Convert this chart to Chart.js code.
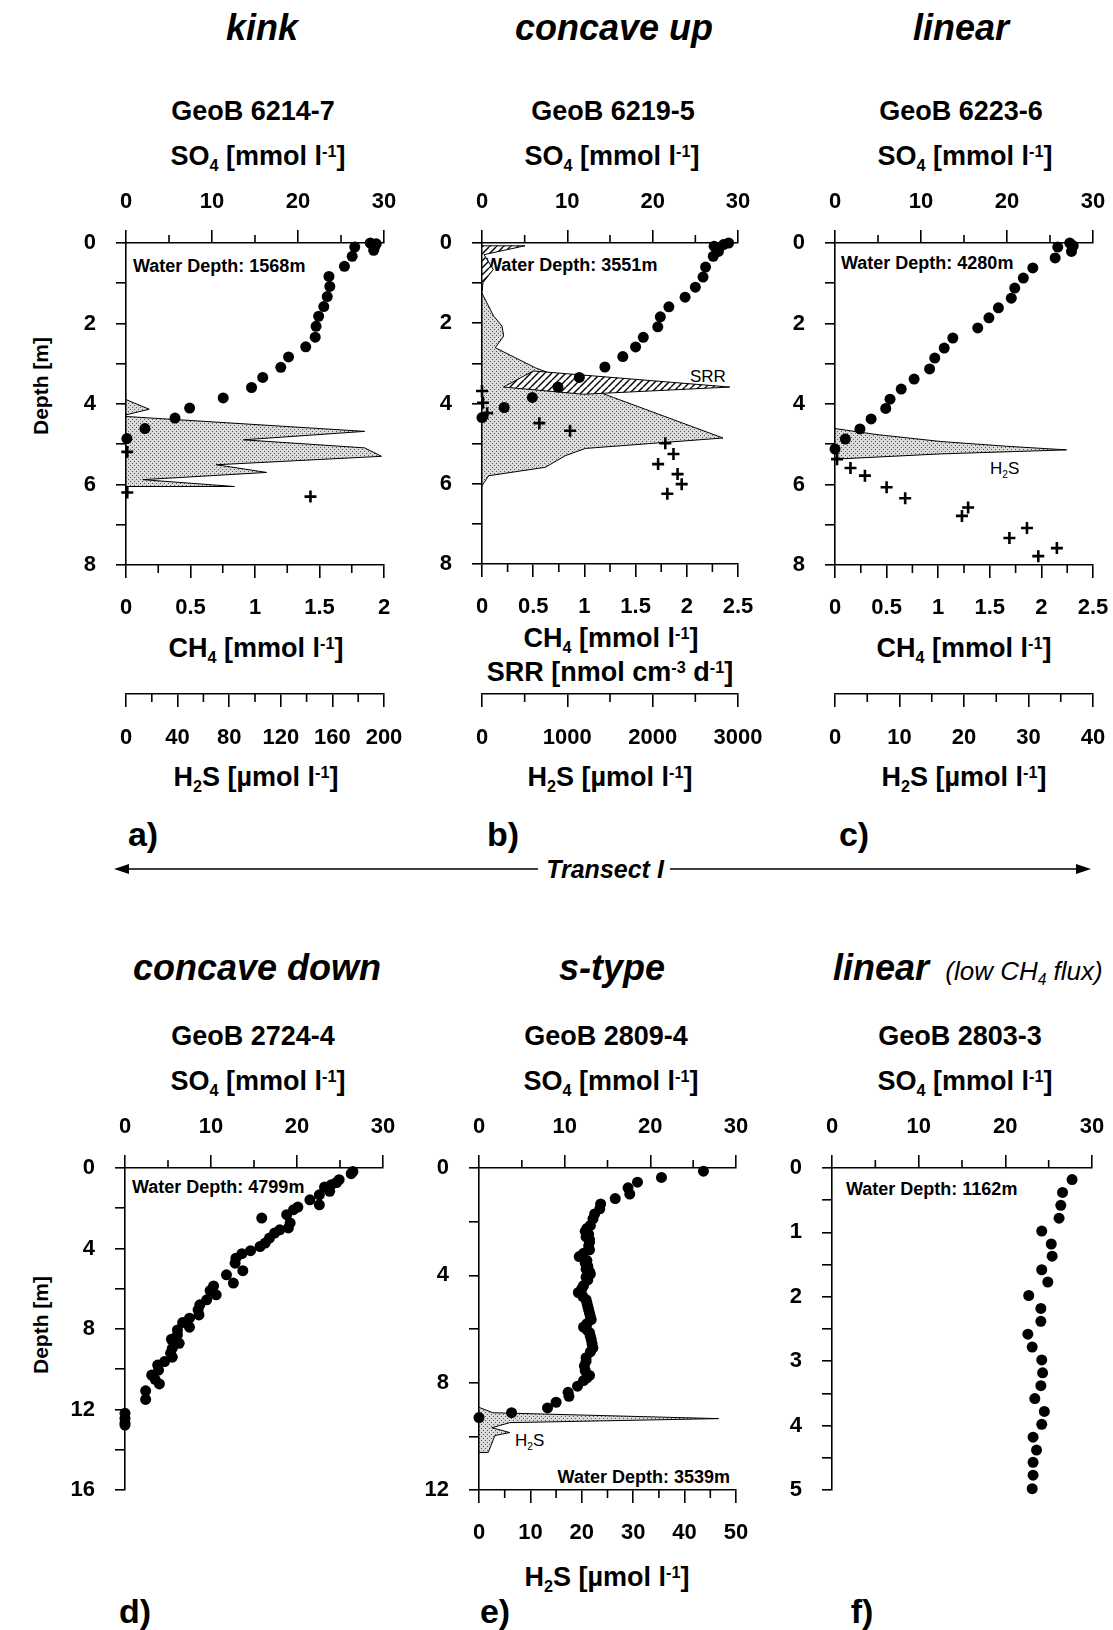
<!DOCTYPE html>
<html>
<head>
<meta charset="utf-8">
<title>Pore water profiles</title>
<script src="https://cdn.jsdelivr.net/npm/chart.js@4.4.1/dist/chart.umd.min.js"></script>
<style>
html,body{margin:0;padding:0;background:#fff;overflow:hidden;}
body{width:1113px;height:1630px;position:relative;overflow:hidden;font-family:'Liberation Sans',Arial,Helvetica,sans-serif;color:#000;}
canvas{position:absolute;}
.tx{position:absolute;white-space:nowrap;line-height:1;transform:translate(-50%,-50%);}
.tl{transform:translate(0,-50%);}
.tr{transform:translate(-100%,-50%);}
.ttl{font-size:36px;font-weight:bold;font-style:italic;}
.sm{font-size:26px;font-style:italic;}
.geo{font-size:27px;font-weight:bold;}
.ax{font-size:27px;font-weight:bold;}
.wd{font-size:18px;font-weight:bold;}
.in{font-size:17px;}
.pl{font-size:34px;font-weight:bold;}
.dep{font-size:21px;font-weight:bold;transform:translate(-50%,-50%) rotate(-90deg);}
.trs{font-size:25px;font-weight:bold;font-style:italic;}
sub,sup{font-size:0.6em;line-height:0;position:relative;vertical-align:baseline;}
sub{top:0.35em;}
sup{top:-0.5em;}
</style>
</head>
<body>

<!-- row 1 texts -->
<div class="tx ttl" style="left:262px;top:28px">kink</div>
<div class="tx ttl" style="left:614px;top:28px">concave up</div>
<div class="tx ttl" style="left:961px;top:28px">linear</div>
<div class="tx geo" style="left:253px;top:111px">GeoB 6214-7</div>
<div class="tx geo" style="left:613px;top:111px">GeoB 6219-5</div>
<div class="tx geo" style="left:961px;top:111px">GeoB 6223-6</div>
<div class="tx ax" style="left:258px;top:156px">SO<sub>4</sub> [mmol l<sup>-1</sup>]</div>
<div class="tx ax" style="left:612px;top:156px">SO<sub>4</sub> [mmol l<sup>-1</sup>]</div>
<div class="tx ax" style="left:965px;top:156px">SO<sub>4</sub> [mmol l<sup>-1</sup>]</div>
<div class="tx dep" style="left:40px;top:386px">Depth [m]</div>
<div class="tx wd tl" style="left:133px;top:266px">Water Depth: 1568m</div>
<div class="tx wd tl" style="left:485px;top:265px">Water Depth: 3551m</div>
<div class="tx wd tl" style="left:841px;top:263px">Water Depth: 4280m</div>
<div class="tx in tl" style="left:163px;top:455px">H<sub>2</sub>S</div>
<div class="tx in tl" style="left:495px;top:453px">H<sub>2</sub>S</div>
<div class="tx in tl" style="left:690px;top:376px">SRR</div>
<div class="tx in tl" style="left:990px;top:468px">H<sub>2</sub>S</div>
<div class="tx ax" style="left:256px;top:648px">CH<sub>4</sub> [mmol l<sup>-1</sup>]</div>
<div class="tx ax" style="left:611px;top:638px">CH<sub>4</sub> [mmol l<sup>-1</sup>]</div>
<div class="tx ax" style="left:610px;top:672px">SRR [nmol cm<sup>-3</sup> d<sup>-1</sup>]</div>
<div class="tx ax" style="left:964px;top:648px">CH<sub>4</sub> [mmol l<sup>-1</sup>]</div>
<div class="tx ax" style="left:256px;top:777px">H<sub>2</sub>S [µmol l<sup>-1</sup>]</div>
<div class="tx ax" style="left:610px;top:777px">H<sub>2</sub>S [µmol l<sup>-1</sup>]</div>
<div class="tx ax" style="left:964px;top:777px">H<sub>2</sub>S [µmol l<sup>-1</sup>]</div>
<div class="tx pl" style="left:143px;top:834px">a)</div>
<div class="tx pl" style="left:503px;top:834px">b)</div>
<div class="tx pl" style="left:854px;top:834px">c)</div>

<svg style="position:absolute;left:0;top:850px" width="1113" height="40">
  <line x1="122" y1="19" x2="538" y2="19" stroke="#000" stroke-width="1.5"/>
  <line x1="670" y1="19" x2="1083" y2="19" stroke="#000" stroke-width="1.5"/>
  <polygon points="114,19 129,14 129,24" fill="#000"/>
  <polygon points="1091,19 1076,14 1076,24" fill="#000"/>
</svg>
<div class="tx trs" style="left:605px;top:869px">Transect I</div>

<!-- row 2 texts -->
<div class="tx ttl" style="left:257px;top:968px">concave down</div>
<div class="tx ttl" style="left:612px;top:968px">s-type</div>
<div class="tx ttl" style="left:881px;top:968px">linear</div>
<div class="tx sm" style="left:1024px;top:971px">(low CH<sub>4</sub> flux)</div>
<div class="tx geo" style="left:253px;top:1036px">GeoB 2724-4</div>
<div class="tx geo" style="left:606px;top:1036px">GeoB 2809-4</div>
<div class="tx geo" style="left:960px;top:1036px">GeoB 2803-3</div>
<div class="tx ax" style="left:258px;top:1081px">SO<sub>4</sub> [mmol l<sup>-1</sup>]</div>
<div class="tx ax" style="left:611px;top:1081px">SO<sub>4</sub> [mmol l<sup>-1</sup>]</div>
<div class="tx ax" style="left:965px;top:1081px">SO<sub>4</sub> [mmol l<sup>-1</sup>]</div>
<div class="tx dep" style="left:40px;top:1325px">Depth [m]</div>
<div class="tx wd tl" style="left:132px;top:1187px">Water Depth: 4799m</div>
<div class="tx wd tr" style="left:730px;top:1477px">Water Depth: 3539m</div>
<div class="tx wd tl" style="left:846px;top:1189px">Water Depth: 1162m</div>
<div class="tx in tl" style="left:515px;top:1440px">H<sub>2</sub>S</div>
<div class="tx ax" style="left:607px;top:1577px">H<sub>2</sub>S [µmol l<sup>-1</sup>]</div>
<div class="tx pl" style="left:135px;top:1611px">d)</div>
<div class="tx pl" style="left:495px;top:1611px">e)</div>
<div class="tx pl" style="left:862px;top:1611px">f)</div>

<canvas id="ca" width="365" height="591" style="left:56px;top:163px"></canvas>
<canvas id="cb" width="369" height="591" style="left:412px;top:163px"></canvas>
<canvas id="cc" width="361" height="591" style="left:765px;top:163px"></canvas>
<canvas id="cd" width="356" height="437" style="left:55px;top:1088px"></canvas>
<canvas id="ce" width="357" height="462" style="left:409px;top:1088px"></canvas>
<canvas id="cf" width="358" height="437" style="left:762px;top:1088px"></canvas>

<script>
// ---------------- tick values / labels ----------------
const so4Ticks = [0, 10, 20, 30];
const so4Labels = ['0', '10', '20', '30'];
const so4Minor = [5, 15, 25];

const depth8Ticks = [0, 1, 2, 3, 4, 5, 6, 7, 8];
const depth8Labels = ['0', '', '2', '', '4', '', '6', '', '8'];
const depth16Ticks = [0, 2, 4, 6, 8, 10, 12, 14, 16];
const depth16Labels = ['0', '', '4', '', '8', '', '12', '', '16'];
const depth12Ticks = [0, 2, 4, 6, 8, 10, 12];
const depth12Labels = ['0', '', '4', '', '8', '', '12'];
const depth5Ticks = [0, 0.5, 1, 1.5, 2, 2.5, 3, 3.5, 4, 4.5, 5];
const depth5Labels = ['0', '', '1', '', '2', '', '3', '', '4', '', '5'];

const ch4TicksA = [0, 0.5, 1, 1.5, 2];
const ch4LabelsA = ['0', '0.5', '1', '1.5', '2'];
const ch4MinorA = [0.25, 0.75, 1.25, 1.75];
const ch4TicksBC = [0, 0.5, 1, 1.5, 2, 2.5];
const ch4LabelsBC = ['0', '0.5', '1', '1.5', '2', '2.5'];
const ch4MinorBC = [0.25, 0.75, 1.25, 1.75, 2.25];

const h2sTicksA = [0, 40, 80, 120, 160, 200];
const h2sLabelsA = ['0', '40', '80', '120', '160', '200'];
const h2sMinorA = [20, 60, 100, 140, 180];
const h2sTicksB = [0, 1000, 2000, 3000];
const h2sLabelsB = ['0', '1000', '2000', '3000'];
const h2sMinorB = [500, 1500, 2500];
const h2sTicksC = [0, 10, 20, 30, 40];
const h2sLabelsC = ['0', '10', '20', '30', '40'];
const h2sMinorC = [5, 15, 25, 35];
const h2sTicksE = [0, 10, 20, 30, 40, 50];
const h2sLabelsE = ['0', '10', '20', '30', '40', '50'];
const h2sMinorE = [5, 15, 25, 35, 45];

// ---------------- data: [value, depth m] ----------------
// a) GeoB 6214-7
const a_SO4 = [[28.4,0.0],[29.1,0.02],[28.9,0.1],[28.8,0.18],[26.6,0.1],[26.3,0.33],[25.4,0.58],[23.6,0.83],[23.7,1.08],[23.4,1.33],[23.0,1.58],[22.4,1.82],[22.1,2.07],[22.0,2.34],[20.9,2.58],[18.9,2.83],[18.0,3.09],[15.9,3.34],[14.6,3.59],[11.3,3.85],[7.4,4.10],[5.7,4.35],[2.2,4.61],[0.1,4.86]];
const a_CH4 = [[0.01,5.19],[0.01,6.2],[1.43,6.3]];
const a_H2S_upper = [[0,3.89],[18,4.13],[0,4.27],[0,3.89]];
const a_H2S_main = [[0,4.31],[185,4.68],[91,4.89],[185,5.09],[198,5.30],[70,5.51],[109,5.70],[13,5.88],[84,6.05],[0,6.05],[0,4.31]];

// b) GeoB 6219-5
const b_SO4 = [[28.9,0.0],[28.3,0.04],[27.2,0.08],[27.8,0.12],[27.7,0.21],[27.1,0.33],[26.2,0.60],[25.9,0.85],[25.0,1.10],[23.8,1.35],[21.9,1.59],[20.9,1.84],[20.6,2.09],[18.9,2.35],[18.0,2.59],[16.5,2.83],[14.4,3.09],[11.4,3.35],[8.9,3.59],[5.9,3.85],[2.6,4.10],[0.0,4.35]];
const b_CH4 = [[0,3.69],[0.01,3.98],[0.05,4.24],[0.56,4.49],[0.86,4.68],[1.79,4.99],[1.87,5.26],[1.72,5.51],[1.91,5.76],[1.95,6.01],[1.81,6.25]];
const b_H2S = [[0,1.25],[136,1.82],[234,2.07],[254,2.32],[156,2.61],[625,3.11],[1540,3.85],[2824,4.86],[1211,5.12],[977,5.30],[742,5.59],[78,5.80],[0,6.05],[0,1.25]];
const b_SRR_top = [[0,0.07],[0.42,0.07],[0.02,0.29],[0.11,0.66],[0.01,0.99],[0,1.2],[0,0.07]];
const b_SRR_main = [[0.21,3.59],[0.50,3.19],[2.42,3.59],[0.99,3.77],[0.21,3.59]];

// c) GeoB 6223-6
const c_SO4 = [[27.3,0],[27.7,0.07],[27.5,0.21],[25.9,0.10],[25.6,0.37],[23.0,0.62],[21.9,0.87],[20.9,1.12],[20.5,1.37],[19.0,1.61],[17.9,1.86],[16.6,2.11],[13.7,2.36],[12.7,2.61],[11.6,2.86],[11.0,3.13],[9.2,3.38],[7.7,3.63],[6.4,3.88],[5.9,4.11],[4.2,4.37],[2.9,4.62],[1.2,4.87],[0,5.12]];
const c_CH4 = [[0.02,5.37],[0.15,5.59],[0.29,5.78],[0.50,6.07],[0.68,6.34],[1.23,6.78],[1.29,6.57],[1.86,7.08],[1.69,7.33],[2.15,7.58],[1.97,7.78]];
const c_H2S = [[0,4.61],[6.5,4.76],[16.3,4.93],[26.6,5.05],[35.9,5.14],[16.3,5.24],[0,5.37],[0,4.61]];

// d) GeoB 2724-4
const d_SO4 = [[26.3,0.28],[26.5,0.17],[24.9,0.58],[24.6,0.72],[24.0,0.83],[23.2,0.95],[23.8,1.16],[22.6,1.33],[21.5,1.58],[22.6,1.83],[20.1,1.94],[19.6,2.07],[18.8,2.32],[15.9,2.49],[19.2,2.73],[19.0,2.98],[18.0,3.07],[17.4,3.23],[16.8,3.48],[16.3,3.73],[15.7,3.90],[14.6,4.11],[13.6,4.26],[12.9,4.48],[12.8,4.73],[13.7,5.10],[11.8,5.31],[12.6,5.72],[10.3,5.86],[9.9,6.09],[10.6,6.30],[9.5,6.55],[8.7,6.80],[8.5,7.05],[8.6,7.30],[7.5,7.46],[6.7,7.68],[7.5,7.91],[6.1,8.05],[6.1,8.29],[5.4,8.51],[6.3,8.71],[5.5,8.96],[5.3,9.20],[5.5,9.40],[4.6,9.62],[3.8,9.79],[3.9,10.04],[3.1,10.29],[3.5,10.5],[4.0,10.73],[2.4,11.07],[2.4,11.5],[0,12.19],[0,12.44],[0,12.66],[0,12.77]];

// e) GeoB 2809-4
const e_SO4 = [[26.2,0.12],[21.3,0.35],[18.5,0.53],[17.4,0.74],[17.6,0.97],[15.9,1.14],[14.2,1.34],[14.1,1.52],[13.5,1.71],[13.3,1.9],[13.0,2.14],[12.6,2.25],[12.4,2.36],[12.8,2.47],[12.5,2.57],[12.9,2.67],[12.9,2.77],[12.8,2.9],[12.9,3.05],[12.2,3.18],[11.7,3.30],[12.6,3.45],[12.4,3.55],[12.7,3.66],[12.5,3.77],[12.9,3.86],[13.0,3.95],[12.5,4.07],[12.7,4.17],[12.2,4.38],[12.0,4.5],[11.6,4.64],[12.1,4.78],[12.5,4.91],[12.6,5.03],[12.7,5.16],[12.8,5.28],[12.9,5.41],[13.0,5.53],[13.1,5.65],[12.6,5.8],[12.2,5.93],[12.6,6.03],[12.9,6.14],[13.0,6.27],[13.1,6.39],[13.2,6.55],[13.3,6.70],[13.0,6.85],[12.5,7.07],[12.5,7.2],[12.3,7.38],[12.4,7.55],[12.9,7.73],[12.6,7.82],[12.2,7.92],[11.5,8.13],[10.4,8.36],[10.5,8.51],[9.0,8.73],[8.0,8.94],[3.8,9.12],[0,9.30]];
const e_H2S = [[0,8.92],[2.7,9.12],[46.6,9.34],[6.0,9.49],[2.5,9.68],[6.0,9.86],[3.1,9.97],[1.8,10.6],[0,10.6],[0,8.92]];

// f) GeoB 2803-3
const f_SO4 = [[27.7,0.18],[26.6,0.38],[26.4,0.58],[26.2,0.78],[24.2,0.98],[25.3,1.18],[25.4,1.37],[24.2,1.58],[24.9,1.77],[22.7,1.98],[24.1,2.18],[24.1,2.38],[22.6,2.58],[23.1,2.78],[24.2,2.98],[24.3,3.18],[24.1,3.38],[23.4,3.58],[24.5,3.78],[24.2,3.98],[23.2,4.18],[23.6,4.38],[23.2,4.57],[23.2,4.77],[23.1,4.98]];

// ---------------- helpers ----------------
const FAM = "'Liberation Sans', Arial, Helvetica, sans-serif";
const TICKFONT = {family: FAM, size: 22, weight: 'bold', lineHeight: 1.2};
const pts = arr => arr.map(p => ({x: p[0], y: p[1]}));

function axis(o) {
  const horiz = o.position === 'top' || o.position === 'bottom';
  return {
    type: 'linear', position: o.position, min: o.min, max: o.max,
    reverse: !!o.reverse, weight: o.weight || 0,
    grid: {display: true, drawOnChartArea: false, drawTicks: true, tickLength: o.tickLen,
           tickWidth: 1.6, lineWidth: 1.6, color: '#000'},
    border: {display: true, color: '#000', width: 1.6},
    ticks: {font: TICKFONT, color: '#000', padding: o.pad, maxRotation: 0, minRotation: 0,
            autoSkip: false, callback: (v, i) => o.labels[i]},
    afterBuildTicks: s => { s.ticks = o.ticks.map(v => ({value: v})); },
    afterFit: horiz ? (s => { s.height = o.size; }) : (s => { s.width = o.size; })
  };
}
const topSO4 = () => axis({position: 'top', min: 0, max: 30, ticks: so4Ticks, labels: so4Labels, size: 80, tickLen: 13, pad: 15});
const depthAxis = (max, t, l) => axis({position: 'left', min: 0, max: max, reverse: true, ticks: t, labels: l, size: 70, tickLen: 10, pad: 20});

function minorPlugin(list) {
  return {
    id: 'minorTicks',
    afterDraw(chart) {
      const ctx = chart.ctx;
      ctx.save();
      ctx.strokeStyle = '#000';
      ctx.lineWidth = 1.6;
      list.forEach(m => {
        const s = chart.scales[m.id];
        m.values.forEach(v => {
          const p = s.getPixelForValue(v);
          ctx.beginPath();
          if (s.position === 'top') { ctx.moveTo(p, s.bottom); ctx.lineTo(p, s.bottom - 8); }
          else { ctx.moveTo(p, s.top); ctx.lineTo(p, s.top + 8); }
          ctx.stroke();
        });
      });
      ctx.restore();
    }
  };
}

function stipple(ctx) {
  const c = document.createElement('canvas'); c.width = 4; c.height = 4;
  const g = c.getContext('2d');
  g.fillStyle = '#dadada'; g.fillRect(0, 0, 4, 4);
  g.fillStyle = '#555'; g.fillRect(0, 0, 1, 1); g.fillRect(2, 2, 1, 1);
  return ctx.createPattern(c, 'repeat');
}
function hatch(ctx) {
  const c = document.createElement('canvas'); c.width = 7; c.height = 7;
  const g = c.getContext('2d');
  g.fillStyle = '#fff'; g.fillRect(0, 0, 7, 7);
  g.strokeStyle = '#000'; g.lineWidth = 1.4;
  [-7, 0, 7].forEach(o => { g.beginPath(); g.moveTo(o, 7); g.lineTo(o + 7, 0); g.stroke(); });
  return ctx.createPattern(c, 'repeat');
}

const dots = (data, xid) => ({type: 'scatter', data: pts(data), xAxisID: xid, yAxisID: 'y',
  pointStyle: 'circle', pointRadius: 5.5, backgroundColor: '#000', borderColor: '#000', borderWidth: 0, clip: false, order: 0});
const crosses = (data, xid) => ({type: 'scatter', data: pts(data), xAxisID: xid, yAxisID: 'y',
  pointStyle: 'cross', pointRadius: 6, borderColor: '#000', borderWidth: 2.6, backgroundColor: '#000', clip: false, order: 0});
const area = (data, xid, fillStyle, order) => ({type: 'line', data: pts(data), xAxisID: xid, yAxisID: 'y',
  borderColor: '#000', borderWidth: 1, backgroundColor: fillStyle, fill: 'shape', pointRadius: 0,
  tension: 0, order: order || 2});

function makeChart(id, datasets, scales, minor, padRight, padBottom) {
  const cv = document.getElementById(id);
  return new Chart(cv, {
    type: 'scatter',
    data: {datasets: datasets(cv.getContext('2d'))},
    options: {
      responsive: false, animation: false, events: [],
      layout: {padding: {left: 0, top: 0, right: padRight, bottom: padBottom}},
      plugins: {legend: {display: false}, tooltip: {enabled: false}},
      scales: scales
    },
    plugins: [minorPlugin(minor)]
  });
}

// ---------------- a) ----------------
makeChart('ca', ctx => [
  dots(a_SO4, 'xs'), crosses(a_CH4, 'xc'),
  area(a_H2S_upper, 'xh', stipple(ctx)), area(a_H2S_main, 'xh', stipple(ctx))
], {
  xs: topSO4(),
  xc: axis({position: 'bottom', weight: 0, min: 0, max: 2, ticks: ch4TicksA, labels: ch4LabelsA, size: 129, tickLen: 13, pad: 17}),
  xh: axis({position: 'bottom', weight: 1, min: 0, max: 200, ticks: h2sTicksA, labels: h2sLabelsA, size: 60, tickLen: 13, pad: 18}),
  y: depthAxis(8, depth8Ticks, depth8Labels)
}, [{id: 'xs', values: so4Minor}, {id: 'xc', values: ch4MinorA}, {id: 'xh', values: h2sMinorA}], 37, 0);

// ---------------- b) ----------------
makeChart('cb', ctx => [
  dots(b_SO4, 'xs'), crosses(b_CH4, 'xc'),
  area(b_SRR_top, 'xc', hatch(ctx), 1), area(b_SRR_main, 'xc', hatch(ctx), 1),
  area(b_H2S, 'xh', stipple(ctx), 2)
], {
  xs: topSO4(),
  xc: axis({position: 'bottom', weight: 0, min: 0, max: 2.5, ticks: ch4TicksBC, labels: ch4LabelsBC, size: 130, tickLen: 13, pad: 17}),
  xh: axis({position: 'bottom', weight: 1, min: 0, max: 3000, ticks: h2sTicksB, labels: h2sLabelsB, size: 60, tickLen: 13, pad: 18}),
  y: depthAxis(8, depth8Ticks, depth8Labels)
}, [{id: 'xs', values: so4Minor}, {id: 'xc', values: ch4MinorBC}, {id: 'xh', values: h2sMinorB}], 43, 0);

// ---------------- c) ----------------
makeChart('cc', ctx => [
  dots(c_SO4, 'xs'), crosses(c_CH4, 'xc'), area(c_H2S, 'xh', stipple(ctx))
], {
  xs: topSO4(),
  xc: axis({position: 'bottom', weight: 0, min: 0, max: 2.5, ticks: ch4TicksBC, labels: ch4LabelsBC, size: 129, tickLen: 13, pad: 17}),
  xh: axis({position: 'bottom', weight: 1, min: 0, max: 40, ticks: h2sTicksC, labels: h2sLabelsC, size: 60, tickLen: 13, pad: 18}),
  y: depthAxis(8, depth8Ticks, depth8Labels)
}, [{id: 'xs', values: so4Minor}, {id: 'xc', values: ch4MinorBC}, {id: 'xh', values: h2sMinorC}], 33, 0);

// ---------------- d) ----------------
makeChart('cd', ctx => [dots(d_SO4, 'xs')], {
  xs: topSO4(),
  y: depthAxis(16, depth16Ticks, depth16Labels)
}, [{id: 'xs', values: so4Minor}], 28, 35);

// ---------------- e) ----------------
makeChart('ce', ctx => [dots(e_SO4, 'xs'), area(e_H2S, 'xh', stipple(ctx))], {
  xs: topSO4(),
  xh: axis({position: 'bottom', weight: 0, min: 0, max: 50, ticks: h2sTicksE, labels: h2sLabelsE, size: 60, tickLen: 13, pad: 17}),
  y: depthAxis(12, depth12Ticks, depth12Labels)
}, [{id: 'xs', values: so4Minor}, {id: 'xh', values: h2sMinorE}], 30, 0);

// ---------------- f) ----------------
makeChart('cf', ctx => [dots(f_SO4, 'xs')], {
  xs: topSO4(),
  y: depthAxis(5, depth5Ticks, depth5Labels)
}, [{id: 'xs', values: so4Minor}], 28, 35);
</script>
</body>
</html>
